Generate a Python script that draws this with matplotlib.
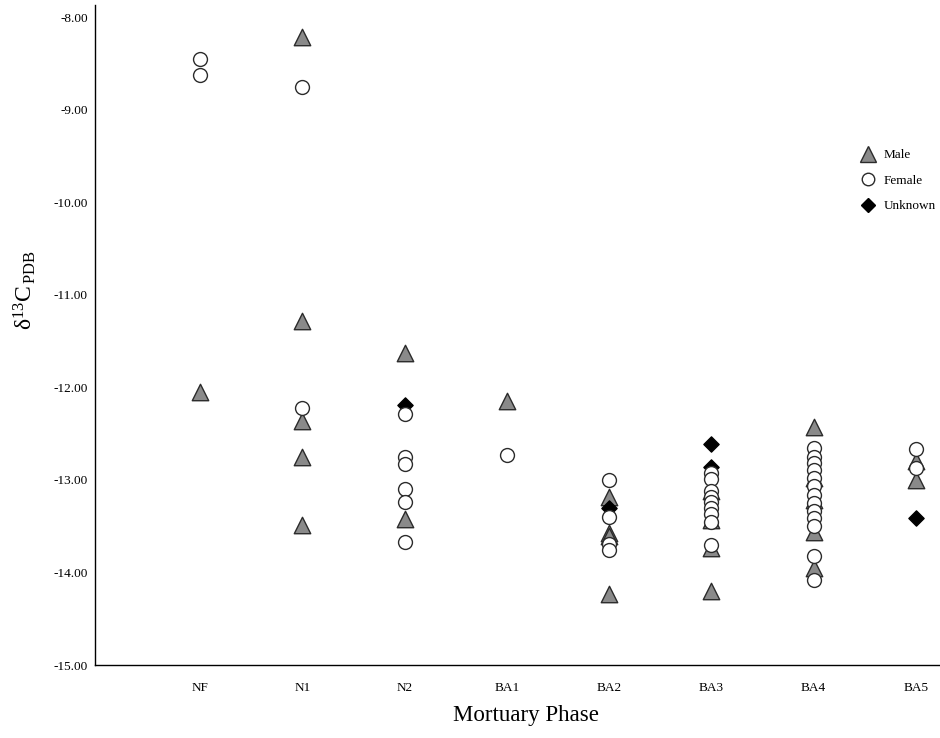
import matplotlib
matplotlib.use("Agg")
import matplotlib.pyplot as plt
from matplotlib.lines import Line2D

plt.rcParams['font.family'] = ['Liberation Serif', 'DejaVu Serif']
plt.rcParams['mathtext.fontset'] = 'custom'
plt.rcParams['mathtext.rm'] = 'Liberation Serif'
plt.rcParams['mathtext.it'] = 'Liberation Serif:italic'

phases = ["NF", "N1", "N2", "BA1", "BA2", "BA3", "BA4", "BA5"]
y_ticks = [-15.0, -14.0, -13.0, -12.0, -11.0, -10.0, -9.0, -8.0]

male_phase = ["NF",
              "N1", "N1", "N1", "N1", "N1",
              "N2", "N2",
              "BA1",
              "BA2", "BA2", "BA2", "BA2",
              "BA3", "BA3", "BA3", "BA3",
              "BA4", "BA4", "BA4", "BA4", "BA4",
              "BA5", "BA5"]
male_d13c = [-12.05,
             -8.21, -11.28, -12.36, -12.75, -13.49,
             -11.63, -13.42,
             -12.15,
             -13.18, -13.57, -13.61, -14.23,
             -13.12, -13.43, -13.74, -14.20,
             -12.43, -12.98, -13.22, -13.56, -13.95,
             -12.79, -13.00]

female_phase = ["NF", "NF",
                "N1", "N1",
                "N2", "N2", "N2", "N2", "N2", "N2",
                "BA1",
                "BA2", "BA2", "BA2", "BA2",
                "BA3", "BA3", "BA3", "BA3", "BA3", "BA3", "BA3", "BA3", "BA3",
                "BA4", "BA4", "BA4", "BA4", "BA4", "BA4", "BA4", "BA4", "BA4",
                "BA4", "BA4", "BA4", "BA4",
                "BA5", "BA5"]
female_d13c = [-8.45, -8.62,
               -8.75, -12.22,
               -12.29, -12.75, -12.83, -13.10, -13.24, -13.67,
               -12.73,
               -13.00, -13.40, -13.69, -13.76,
               -12.93, -12.99, -13.12, -13.18, -13.24, -13.30, -13.37, -13.45, -13.70,
               -12.65, -12.75, -12.82, -12.89, -12.98, -13.07, -13.16, -13.25, -13.34,
               -13.41, -13.50, -13.82, -14.08,
               -12.67, -12.87]

unknown_phase = ["N2", "BA2", "BA3", "BA3", "BA5"]
unknown_d13c = [-12.19, -13.30, -12.61, -12.86, -13.41]

fig = plt.figure(figsize=(9.4, 7.38), dpi=100)
ax = fig.add_axes([0.101, 0.0989, 0.982, 0.894])

def xpos(lst):
    return [phases.index(p) for p in lst]

ax.scatter(xpos(male_phase), male_d13c, marker='^', s=140, facecolor='#8a8a8a',
           edgecolor='#2b2b2b', linewidth=1.0, zorder=3)
ax.scatter(xpos(unknown_phase), unknown_d13c, marker='D', s=60, facecolor='black',
           edgecolor='black', linewidth=1.0, zorder=4)
ax.scatter(xpos(female_phase), female_d13c, marker='o', s=100, facecolor='white',
           edgecolor='#2b2b2b', linewidth=1.0, zorder=5)

ax.set_xlim(-1.03, 8.0)
ax.set_ylim(-15.0, -7.87)
ax.set_xticks(range(len(phases)))
ax.set_xticklabels(phases, fontsize=9.5)
ax.set_yticks(y_ticks)
ax.set_yticklabels([f"{v:.2f}" for v in y_ticks], fontsize=9.5)
ax.tick_params(axis='y', length=0, pad=5)
ax.tick_params(axis='x', length=0, pad=12)
for s in ['top', 'right']:
    ax.spines[s].set_visible(False)
for s in ['left', 'bottom']:
    ax.spines[s].set_color('black')
    ax.spines[s].set_linewidth(1.0)

ax.set_xlabel("Mortuary Phase", fontsize=16.5)
ax.xaxis.set_label_coords(0.467, -0.061)
ax.set_ylabel(r"δ$^{13}$C$_{\,\mathrm{PDB}}$", fontsize=17)
ax.yaxis.set_label_coords(-0.062, 0.568)

handles = [
    Line2D([], [], marker='^', linestyle='', markersize=11, markerfacecolor='#8a8a8a',
           markeredgecolor='#2b2b2b', label='Male'),
    Line2D([], [], marker='o', linestyle='', markersize=9, markerfacecolor='white',
           markeredgecolor='#2b2b2b', label='Female'),
    Line2D([], [], marker='D', linestyle='', markersize=7.5, markerfacecolor='black',
           markeredgecolor='black', label='Unknown'),
]
leg = ax.legend(handles=handles, loc='upper left', bbox_to_anchor=(0.817, 0.79),
                frameon=False, fontsize=9.5, handletextpad=0.2, labelspacing=1.0,
                borderaxespad=0)

fig.savefig("out.png", dpi=100)
